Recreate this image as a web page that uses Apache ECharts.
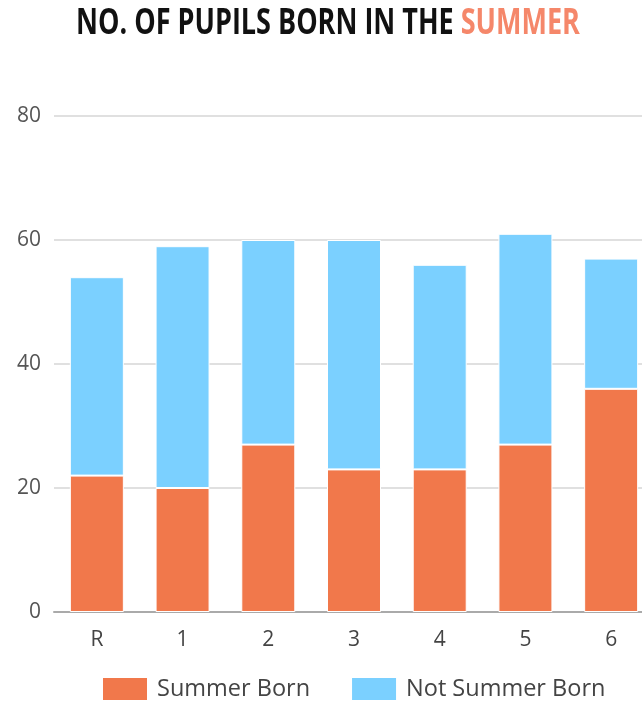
<!DOCTYPE html>
<html>
<head>
<meta charset="utf-8">
<script src="https://cdn.jsdelivr.net/npm/echarts@6/dist/echarts.min.js"></script>
<style>html,body{margin:0;padding:0;background:#fff}#c{width:642px;height:702px}</style>
</head>
<body>
<div id="c"></div>
<script>
const categories = ['R', '1', '2', '3', '4', '5', '6'];
const summerBorn = [22, 20, 27, 23, 23, 27, 36];
const notSummerBorn = [32, 39, 33, 37, 33, 34, 21];
const yTicks = { min: 0, max: 80, interval: 20 };

const chart = echarts.init(document.getElementById('c'));
chart.setOption({
  animation: false,
  graphic: [{
    type: 'text',
    x: 328, y: 24,
    scaleX: 0.75,
    originX: 0, originY: 0,
    style: {
      text: '{a|NO. OF PUPILS BORN IN THE }{b|SUMMER}',
      textAlign: 'center',
      textVerticalAlign: 'middle',
      rich: {
        a: { fontFamily: '"Open Sans", sans-serif', fontWeight: 'bold', fontSize: 36, fill: '#111', color: '#111' },
        b: { fontFamily: '"Open Sans", sans-serif', fontWeight: 'bold', fontSize: 36, fill: '#F5876A', color: '#F5876A' }
      }
    }
  }],
  legend: {
    top: 671,
    left: 96,
    icon: 'rect',
    itemWidth: 46,
    itemHeight: 24,
    itemGap: 40,
    textStyle: { fontFamily: '"Open Sans", sans-serif', fontSize: 23.5, color: '#444', padding: [0, 0, 0, 4] },
    data: ['Summer Born', 'Not Summer Born']
  },
  grid: { left: 54, width: 600, top: 116, height: 496, containLabel: false, outerBoundsMode: 'none' },
  xAxis: {
    type: 'category',
    data: categories,
    axisTick: { show: false },
    axisLine: { lineStyle: { color: '#aaa', width: 2 } },
    axisLabel: { fontFamily: '"Open Sans", sans-serif', fontSize: 21, color: '#444', margin: 18 }
  },
  yAxis: {
    type: 'value',
    min: yTicks.min, max: yTicks.max, interval: yTicks.interval,
    axisLine: { show: false },
    axisTick: { show: false },
    splitLine: { lineStyle: { color: '#d6d6d6', width: 1.5 } },
    axisLabel: { fontFamily: '"Open Sans", sans-serif', fontSize: 21, color: '#555', margin: 13 }
  },
  series: [
    {
      name: 'Summer Born', type: 'bar', stack: 's', data: summerBorn, barWidth: '63%',
      itemStyle: { color: '#F1784B', borderColor: '#fff', borderWidth: 1 }
    },
    {
      name: 'Not Summer Born', type: 'bar', stack: 's', data: notSummerBorn, barWidth: '63%',
      itemStyle: { color: '#7BD0FF', borderColor: '#fff', borderWidth: 1 }
    }
  ]
});
</script>
</body>
</html>
